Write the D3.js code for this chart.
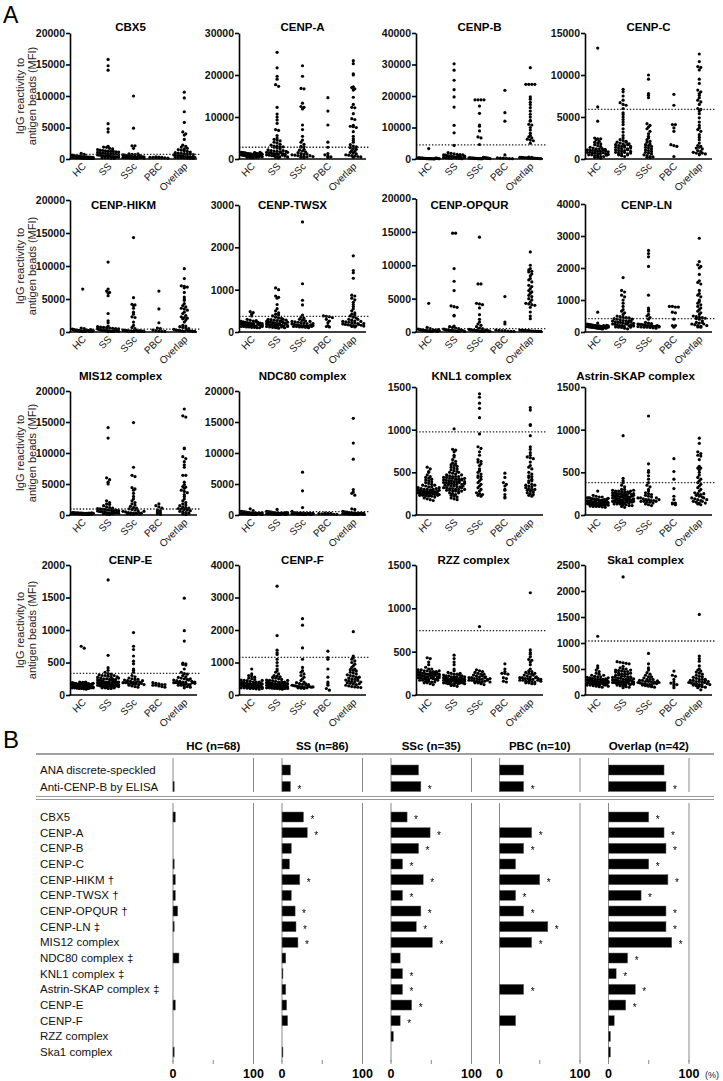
<!DOCTYPE html>
<html><head><meta charset="utf-8">
<script src="https://cdn.jsdelivr.net/npm/d3@7"></script>
<style>body{margin:0;background:#fff;} svg{display:block;font-family:"Liberation Sans",Arial,sans-serif;} .stars{filter:grayscale(100%);}</style>
</head><body><svg id="c" width="723" height="1081"></svg>
<script>
// ---------------- DATA: panel A ----------------
const groups = ["HC","SS","SSc","PBC","Overlap"];
const panelTitles = ["CBX5","CENP-A","CENP-B","CENP-C","CENP-HIKM","CENP-TWSX","CENP-OPQUR","CENP-LN",
  "MIS12 complex","NDC80 complex","KNL1 complex","Astrin-SKAP complex","CENP-E","CENP-F","RZZ complex","Ska1 complex"];
const yTicks = [
  [0,5000,10000,15000,20000],[0,10000,20000,30000],[0,10000,20000,30000,40000],[0,5000,10000,15000],
  [0,5000,10000,15000,20000],[0,1000,2000,3000],[0,5000,10000,15000,20000],[0,1000,2000,3000,4000],
  [0,5000,10000,15000,20000],[0,5000,10000,15000,20000],[0,500,1000,1500],[0,500,1000,1500],
  [0,500,1000,1500,2000],[0,1000,2000,3000,4000],[0,500,1000,1500],[0,500,1000,1500,2000,2500]];
const cutoffs = [750,2800,4500,5900,450,370,500,415,970,530,973,380,333,1160,742,1038];

const cbx5 = [
 [900,750,600,550,500,480,450,420,400,380,360,350,340,320,300,300,280,270,260,250,240,230,220,210,200,200,190,180,170,160,150,150,140,130,120,110,100,100,90,80],
 [15800,14800,14100,5600,4800,4300,2000,1900,1850,1700,1600,1500,1400,1350,1300,1250,1200,1200,1150,1100,1050,1000,950,900,850,800,800,750,700,650,600,600,550,500,500,450,400,400,350,300,300,250,200,200,150,100],
 [10000,4900,2100,2100,1700,800,750,700,650,600,550,500,450,400,380,350,320,300,280,250,230,200,180,150,120,100,800,600,500,400,300,200,350,250,150],
 [350,300,280,260,250,240,220,200,180,150],
 [10600,9700,7500,5800,4300,4000,3800,3100,2200,1900,1500,1400,1300,1200,1100,1000,950,900,850,800,780,700,650,600,550,500,450,400,380,350,300,280,250,230,200,180,150,120,100,1600,1700,2000]];
const cenpA = [
 [1600,1550,1500,1450,1400,1350,1300,1250,1200,1150,1100,1050,1000,950,900,850,800,750,700,650,600,550,500,450,400,350,300,1500,1400,1300,1200,1100,1000,900,800,700,600,500,400,1600,1350,1150,950,750,550],
 [25400,21700,19700,19000,17700,17300,12300,10700,10000,9300,8500,7000,6800,5600,5000,4700,4500,4300,4000,3800,3500,3300,3100,3000,2900,2900,2800,2600,2400,2200,2000,1900,1800,1700,1600,1500,1400,1300,1200,1100,1000,900,800,700,600,500,400,1500,1300,1100,900,700,500,300,2000,1800,1600],
 [22200,19700,16800,16700,13300,12500,12300,11900,8100,7000,5400,4500,4000,3500,3000,2900,2800,2300,2100,1900,1700,1500,1300,1100,1000,900,800,700,600,500,400,300,1200,800,600],
 [14600,11400,8100,4000,2800,1300,1000,700,500,400],
 [23400,22700,20300,20000,17200,17000,16700,16400,14700,13000,12300,12200,10800,9600,9400,8000,7800,7700,7500,6500,5400,4800,4400,4000,3400,3100,2900,2700,2500,2300,2000,1800,1600,1400,1200,1000,900,800,700,600,500,400]];
const cenpB = [
 [3300,400,350,300,300,250,250,200,200,200,150,150,150,100,100,100,80,80,60,50,300,250,200,150,100],
 [30200,28200,25000,22000,19700,16500,10700,8300,4300,2000,1800,1600,1500,1400,1300,1200,1100,1000,900,800,700,600,500,400,300,200,1000,800,600,400,300,200,100,1300,900,500],
 [18800,18800,18800,18800,16800,14500,10800,10400,8900,7000,6700,4600,400,350,300,300,250,250,200,200,200,150,150,150,100,100,100,500,450,400,350,300,250,200,150],
 [21800,14700,12000,1300,400,300,250,200,150,100],
 [29000,23700,23700,23700,23700,19700,19000,18000,17300,16300,15200,14200,13300,12300,12000,11000,10800,10000,9200,8200,7500,7000,6700,6300,6000,5800,5000,600,550,500,500,450,400,400,350,300,300,250,200,200,150,100]];
const cenpC = [
 [13200,6200,4500,2500,2400,2400,2300,2100,2000,1900,1800,1700,1600,1500,1400,1300,1200,1200,1100,1100,1000,1000,900,900,800,800,700,700,600,600,500,500,400,400,300,300,200,200,100,1250,1150,1050,950,850,750,650,550,450],
 [8300,8000,7500,7000,6700,6500,6400,6000,5500,5300,5000,4700,4400,4100,3600,3200,2800,2500,2300,2200,2100,2000,1900,1800,1700,1600,1500,1400,1300,1200,1100,1000,900,800,700,600,500,400,300,2000,1800,1600,1400,1200,1000,800,600,1700,1500,1300,1100,900,700,500],
 [10000,9500,7800,7600,7300,4200,4000,3800,3600,3300,3000,2700,2500,2300,2100,2000,1800,1700,1600,1500,1400,1300,1200,1100,1000,900,800,700,600,500,400,300,250,200,150],
 [7700,6400,4100,4100,3700,3300,1700,1600,1500,300],
 [12500,11600,11000,10900,10600,9500,9000,8200,8000,7800,7600,7300,7000,6800,6500,6000,5900,5700,5400,4900,4400,4000,3700,3500,3300,2900,2600,2300,1900,1600,1500,1300,1000,800,700,600,500,1400,1200,900,700,600]];
const cenpHIKM = [
 [6500,600,500,450,400,350,300,300,250,250,200,200,200,150,150,150,100,100,100,80,60,300,250,200,150,100,350,180,120,220],
 [10600,6500,6200,6000,5900,5500,2800,1700,1400,900,800,750,700,650,600,550,500,480,460,450,400,350,300,300,250,250,200,200,200,150,150,150,100,100,100,80,60,300,250,200,150,100],
 [14300,5200,4200,4100,4000,3600,3000,2700,2300,2200,1500,1000,700,500,300,250,200,200,180,150,150,120,100,100,80,300,250,200,150,100,200,150,120,100,80],
 [6200,3500,1400,600,500,300,200,150,100,80],
 [9600,8100,7000,6900,6800,6700,6000,5300,5000,4800,4300,4000,3800,3600,3500,3300,3000,2800,2500,2300,2200,2100,2000,1800,1500,1000,900,800,700,600,500,400,300,250,200,150,100,300,200,150,100,80]];
const cenpTWSX = [
 [480,460,420,380,300,280,260,250,240,230,220,210,200,200,190,180,180,170,170,160,160,150,150,140,140,130,130,120,120,110,110,100,100,250,230,210,190,170,150,130,270,200,160],
 [1040,1000,850,820,800,650,550,500,450,420,400,380,350,330,320,300,290,280,270,260,250,240,230,220,210,200,200,190,180,170,160,150,150,140,130,120,110,100,90,300,250,220,200,180,160,140,120,100,280,230,190,150,130],
 [2600,1140,750,640,400,350,320,300,280,260,250,240,230,220,210,200,190,180,170,160,150,150,140,140,130,130,120,120,110,100,250,200,170,150,130],
 [380,370,360,340,300,260,220,150,130,120],
 [1800,1450,1400,1270,870,850,800,760,700,650,600,550,500,450,420,400,380,350,330,300,280,260,250,240,230,220,210,200,190,180,170,160,150,140,130,120,300,250,200,180,160,140]];
const cenpOPQUR = [
 [4300,700,500,450,400,350,300,300,250,250,200,200,200,150,150,150,100,100,100,300,250,200,150,100,350,200],
 [14800,14800,9500,7600,6200,3900,3800,3700,2500,2400,900,800,700,600,500,450,400,350,300,300,250,250,200,200,200,150,150,150,100,100,100,300,250,200,150,100],
 [14200,7200,7200,4300,4200,4100,3600,2600,1900,1500,1200,1000,800,600,500,400,350,300,300,250,250,200,200,200,150,150,150,100,100,100,300,250,200,150,100],
 [5300,1500,1200,300,250,200,200,150,100,100],
 [12000,10000,9500,9300,9100,9000,8700,8400,8000,7800,7500,7000,6800,6500,6200,6000,5800,5500,5300,5000,4800,4500,4300,4200,4100,4000,3700,3000,2400,2000,300,250,250,200,200,200,150,150,150,100,100,100]];
const cenpLN = [
 [620,280,250,240,230,220,210,200,200,190,190,180,180,170,170,160,160,150,150,140,140,130,130,120,120,110,110,100,100,200,180,160,140,120,210,190,170,150],
 [1700,1300,1250,1150,1100,1000,900,800,700,650,600,550,500,480,460,450,440,420,400,380,360,350,340,320,300,300,280,260,250,240,220,200,200,180,160,150,140,120,100,350,300,250,200,150,400,330,270,230,190],
 [2550,2450,2350,2050,1150,750,700,650,550,500,450,400,300,280,260,250,240,230,220,210,200,200,190,180,180,170,160,150,150,140,130,120,200,180,160],
 [800,800,780,780,620,600,400,200,200,150],
 [2930,2200,2100,2050,2000,1800,1600,1550,1500,1300,1200,1150,1100,1000,950,900,850,800,750,700,650,600,550,500,480,460,450,430,420,400,350,300,280,250,230,200,180,160,150,300,250,200]];
const mis12 = [
 [400,380,360,350,340,320,300,300,280,260,250,250,240,220,200,200,200,180,160,150,150,140,120,100,100,300,250,200,150,350,280,230],
 [14100,12400,6000,5700,5300,5000,2300,2000,1800,1700,1500,1300,1200,1100,1050,1000,950,900,850,800,750,700,650,600,550,500,450,400,350,300,250,200,150,100,800,600,400,300,200,700,500,300],
 [14900,7700,6400,6200,4400,4200,4000,3500,3000,2600,2300,2000,1800,1600,1400,1200,1100,1000,900,800,700,600,500,400,350,300,250,200,150,100,400,300,200,150,600],
 [1800,1500,1300,1100,800,700,500,300,200,100],
 [17100,16000,15800,10800,10700,9400,9100,8600,8100,7700,6400,6400,5300,4900,4600,4500,4300,4000,3800,3600,3300,3000,2600,2300,2000,1800,1600,1500,1300,1200,1100,1050,1000,900,800,700,600,500,400,300,200,100]];
const ndc80 = [
 [1000,700,600,550,500,450,400,350,300,300,250,250,200,200,200,150,150,150,100,100,100,300,250,200,150,100,350],
 [900,600,550,500,450,400,350,300,300,250,250,200,200,200,150,150,150,100,100,100,300,250,200,150,100,400,350,200],
 [6900,3900,1200,600,400,350,300,300,250,250,200,200,200,150,150,150,100,100,100,300,250,200,150,100,200],
 [300,280,250,230,200,180,160,150,120,100],
 [15600,11600,9000,4100,3700,3500,3200,1000,900,600,500,450,400,350,300,300,250,250,200,200,200,150,150,150,100,100,100,300,250,200,150,100]];
const knl1 = [
 [560,540,510,500,470,450,440,430,420,410,400,390,380,370,360,350,340,330,320,310,300,300,295,290,285,280,280,275,270,270,265,260,260,255,250,250,245,240,240,235,230,230,225,220,220,210,200,190,180,170,300,290,280,270,260,250,240,310,320,330,350,270,260,250,280,290,240,230],
 [1010,770,760,740,700,680,650,630,610,600,590,580,570,560,550,540,530,520,510,500,490,480,470,460,450,450,440,440,430,430,420,420,410,410,400,400,390,390,380,380,370,370,360,360,350,350,340,340,330,330,320,320,310,310,300,300,290,290,280,280,270,260,250,240,230,220,210,200,190,180,450,420,400,380,360,340,320,300,280,260,500,470,430,410,390,370],
 [1420,1380,1310,1250,1140,950,800,780,740,700,650,620,600,580,540,500,480,460,440,420,400,380,360,340,320,300,280,260,250,240,230,220,450,520,630],
 [490,440,380,360,340,300,290,240,210,200],
 [1260,1230,1060,1050,930,800,770,730,700,680,670,660,620,580,560,540,500,480,460,440,420,400,380,360,350,340,330,320,310,300,290,280,270,260,250,240,230,220,350,300,400,450]];
const astrin = [
 [280,230,220,210,210,200,200,200,190,190,190,180,180,180,170,170,170,165,160,160,160,155,150,150,150,145,140,140,140,135,130,130,130,125,120,120,120,115,110,110,110,105,100,100,100,95,90,150,140,130,120,160,170,180,150,140,130,120,110,165,155,145,135,125,115,175,185,195],
 [930,430,400,380,350,330,300,290,280,280,270,270,260,260,250,250,240,240,230,230,220,220,210,210,200,200,200,190,190,190,180,180,180,170,170,170,160,160,160,150,150,150,140,140,140,130,130,130,120,120,110,110,100,90,250,240,230,220,210,200,190,180,170,160,150,140,260,270,280,290,300,200,190,180,170,160,210,220,230,240,250,150,160,170,180,190],
 [1160,600,520,500,460,420,380,350,330,300,280,260,250,240,230,220,210,200,200,190,180,180,170,170,160,160,150,150,140,130,120,110,200,180,160],
 [660,510,420,310,220,180,140,140,130,120],
 [900,840,740,720,700,690,650,570,550,550,530,500,470,440,420,400,380,360,340,320,300,280,260,250,240,230,220,210,200,190,180,170,160,150,140,130,120,250,200,180,160,140]];
const cenpE = [
 [750,720,200,195,190,185,180,175,170,165,160,155,150,150,145,140,140,135,130,130,125,120,120,115,110,110,105,100,100,95,90,200,180,160,140,120,100,190,170,150,130,110,185,165,145,125,175,155,135,115,150,140,130,120,160,170,180,110],
 [1770,610,420,380,350,330,320,310,300,300,290,280,270,260,250,250,240,230,220,220,210,200,200,200,190,190,180,180,170,170,160,160,150,150,140,140,130,130,120,120,110,110,100,100,250,230,210,190,170,150,130,110,240,220,200,180,160,140,120,300,280,260,200,190,180,170,160,150,140,130],
 [960,750,700,600,520,480,400,380,350,300,280,260,250,240,230,220,210,200,200,190,190,180,180,170,170,160,150,140,130,120,200,180,160,220,240],
 [190,180,170,160,160,150,150,140,130,120],
 [1490,990,830,490,480,470,460,400,350,330,320,300,280,270,260,250,240,230,220,210,200,200,190,190,180,180,170,170,160,160,150,150,140,130,120,110,250,230,210,200,190,180]];
const cenpF = [
 [800,650,600,580,550,520,500,480,460,450,440,420,400,400,380,380,360,360,350,340,340,320,320,300,300,290,280,280,270,260,260,250,250,240,240,230,230,220,220,210,200,200,190,180,400,350,300,250,200,450,330,270,230,310,290,260,240,380,360,340],
 [3350,1830,1380,1300,1250,1100,1000,900,800,750,700,650,600,580,560,540,520,500,480,460,450,440,420,400,400,380,380,360,360,350,340,340,320,320,300,300,290,280,280,270,260,260,250,250,240,240,230,230,220,220,210,200,200,190,180,400,350,300,250,200,450,330,270,230,310,290,260,240,380,360,340,300,250,200,350],
 [2350,2150,1450,1100,850,750,700,650,600,550,500,450,400,380,350,330,300,290,280,270,260,250,240,230,220,210,200,300,280,260,240,220,350,320,250],
 [1350,1150,1100,800,550,400,350,300,200,150],
 [1950,1200,1150,1100,1050,1000,950,900,850,800,780,760,740,700,680,650,620,600,580,550,520,500,480,460,440,420,400,380,360,340,320,300,280,260,250,240,230,550,500,450,400,350]];
const rzz = [
 [430,420,380,350,320,300,300,290,290,280,280,270,270,260,260,250,250,240,240,230,230,220,220,210,210,200,200,190,190,180,180,170,170,160,160,150,150,140,140,130,120,250,240,230,220,210,200,190,180,170,260,270,280,250,230,210,190,200,220,240],
 [460,420,380,350,300,280,260,250,240,230,220,220,210,210,200,200,190,190,180,180,170,170,160,160,150,150,140,140,130,130,120,120,110,110,100,200,190,180,170,160,150,140,130,210,200,190,180,170,160,150,140,230,220,210,200,190,180,170,160,150,140,130,240,250,180,160],
 [790,290,280,270,260,250,240,230,220,210,200,200,190,190,180,180,170,170,160,160,150,150,140,140,130,120,200,180,160,220,240,190,170,150,210],
 [360,300,270,250,250,240,200,190,160,150],
 [1180,520,490,470,440,410,400,380,350,300,280,270,260,250,240,230,220,210,200,200,190,190,180,180,170,170,160,160,150,150,140,140,130,130,250,230,210,200,190,180,170,160]];
const ska1 = [
 [1130,560,520,480,450,420,400,380,360,350,340,330,320,310,300,300,290,290,280,280,270,270,260,260,250,250,240,240,230,230,220,220,210,210,200,200,190,190,180,170,160,150,300,280,260,240,220,200,250,230,210,270,290,310,330,350,190,170,380,260,240],
 [2270,640,630,620,610,600,550,520,500,480,470,460,450,440,420,400,400,380,380,360,360,350,340,340,320,320,300,300,290,280,280,270,260,260,250,250,240,240,230,230,220,220,210,200,200,190,180,170,160,150,140,300,280,260,240,220,200,350,330,310,290,270,250,230,210,400,450,500,480,420],
 [800,600,520,480,430,400,380,350,350,330,300,300,280,280,260,260,250,240,230,220,210,200,200,190,180,170,160,150,300,250,200,230,270,220,240],
 [460,380,360,300,250,230,210,200,180,140],
 [1550,750,700,650,560,500,480,460,440,420,400,380,360,350,340,320,300,300,280,280,260,260,250,240,230,220,210,200,200,190,180,170,160,150,140,100,300,280,260,240,220,200]];
const panelData = [cbx5,cenpA,cenpB,cenpC,cenpHIKM,cenpTWSX,cenpOPQUR,cenpLN,mis12,ndc80,knl1,astrin,cenpE,cenpF,rzz,ska1];

// ---------------- DATA: panel B ----------------
const rowLabelsB = ["ANA discrete-speckled","Anti-CENP-B by ELISA","CBX5","CENP-A","CENP-B","CENP-C","CENP-HIKM \u2020","CENP-TWSX \u2020",
  "CENP-OPQUR \u2020","CENP-LN \u2021","MIS12 complex","NDC80 complex \u2021","KNL1 complex \u2021","Astrin-SKAP complex \u2021","CENP-E","CENP-F","RZZ complex","Ska1 complex"];
const colHeadersB = ["HC (n=68)","SS (n=86)","SSc (n=35)","PBC (n=10)","Overlap (n=42)"];
const pctHC      = [0,1.5,2.9,0,0,1.5,2.9,2.9,5.9,1.5,0,7.4,0,0,2.9,0,0,1.5];
const pctSS      = [10.5,10.5,26.7,31.4,11.6,9.3,22.1,11.6,16.3,17.4,19.8,4.7,1.2,4.7,5.8,7.0,0,1.2];
const pctSSc     = [34.3,37.1,20.0,48.6,34.3,14.3,40.0,14.3,37.1,31.4,51.4,11.4,14.3,14.3,25.7,11.4,2.9,0];
const pctPBC     = [30,30,0,40,30,20,50,20,30,60,40,0,0,30,0,20,0,0];
const pctOverlap = [69.0,71.4,50.0,69.0,71.4,50.0,73.8,40.5,71.4,71.4,78.6,23.8,9.5,33.3,21.4,7.1,2.4,2.4];
const sigHC      = [0,0,0,0,0,0,0,0,0,0,0,0,0,0,0,0,0,0];
const sigSS      = [0,1,1,1,0,0,1,0,1,1,1,0,0,0,0,0,0,0];
const sigSSc     = [0,1,1,1,1,1,1,1,1,1,1,0,1,1,1,1,0,0];
const sigPBC     = [0,1,0,1,1,0,1,1,1,1,1,0,0,1,0,0,0,0];
const sigOverlap = [0,1,1,1,1,1,1,1,1,1,1,1,1,1,1,0,0,0];
const axisTicksB = [0,50,100];

// ---------------- DRAW ----------------
const svg = d3.select("#c");
const F = "'Liberation Sans',Arial,sans-serif";

svg.append("text").attr("x",3).attr("y",23).attr("font-size",23).text("A");

const colX = [70,239,416,585], plotW = 127, rowZero = [159,332,515,695];
const panelTop = [33,33,33,33,200,205,198.5,204,391,391,387,387,565,565,565,565];
const titleDx = [-3,0,0,0,-10,-10,-10,-2,-13,0,-8,-13,-3,0,-6,-3];
const titleY = [31,31,31,31,209,209,209,209,380,380,380,380,564,564,564,564];

function swarm(vals, cx, y, halfW){
  const binH = 2.6, bins = new Map();
  vals.forEach(v=>{
    const py = y(v), k = Math.round(py/binH);
    if(!bins.has(k)) bins.set(k,[]);
    bins.get(k).push(py);
  });
  const pts=[];
  bins.forEach(arr=>{
    const n=arr.length;
    const sp = n>1 ? Math.min(3.0, 2*halfW/(n-1)) : 0;
    arr.forEach((py,i)=>pts.push([cx+(i-(n-1)/2)*sp, py]));
  });
  return pts;
}

panelData.forEach((data,i)=>{
  const r=Math.floor(i/4), c=i%4;
  const x0=colX[c], y0=rowZero[r];
  const y=d3.scaleLinear().domain([0,yTicks[i][yTicks[i].length-1]]).range([y0,panelTop[i]]);
  const x=d3.scaleBand().domain(groups).range([x0,x0+plotW]);
  const g=svg.append("g");
  g.append("text").attr("x",x0+plotW/2+titleDx[i]).attr("y",titleY[i]).attr("text-anchor","middle")
    .attr("font-size",11.5).attr("font-weight","bold").text(panelTitles[i]);
  data.forEach((vals,gi)=>{
    const pts=swarm(vals, x(groups[gi])+x.bandwidth()/2, y, 10.5);
    g.selectAll(null).data(pts).enter().append("circle")
      .attr("cx",d=>d[0]).attr("cy",d=>d[1]).attr("r",1.6).attr("fill","#000");
  });
  g.append("line").attr("x1",x0).attr("x2",x0+plotW+3).attr("y1",y(cutoffs[i])).attr("y2",y(cutoffs[i]))
    .attr("stroke","#222").attr("stroke-width",1.3).attr("stroke-dasharray","1.4,1.8");
  const ya=g.append("g").attr("transform",`translate(${x0},0)`)
    .call(d3.axisLeft(y).tickValues(yTicks[i]).tickSize(4).tickSizeOuter(0).tickPadding(1).tickFormat(d3.format("d")));
  ya.select(".domain").attr("stroke-width",1.6);
  ya.selectAll(".tick line").attr("stroke-width",1.6);
  ya.selectAll("text").attr("font-size",10.5).attr("font-weight","bold").attr("font-family",F).attr("fill","#111");
  g.append("line").attr("x1",x0-0.8).attr("x2",x0+plotW).attr("y1",y0).attr("y2",y0).attr("stroke","#000").attr("stroke-width",1.6);
  groups.forEach(gr=>{
    const cx=x(gr)+x.bandwidth()/2;
    g.append("text").attr("transform",`translate(${cx+4},${y0+8}) rotate(-45)`).attr("text-anchor","end")
      .attr("font-size",10).attr("fill","#111").text(gr);
  });
  if(c===0){
    const cy=(y0+panelTop[i])/2;
    const t=svg.append("text").attr("transform",`translate(24,${cy}) rotate(-90)`).attr("text-anchor","middle")
      .attr("font-size",11).attr("fill","#222");
    t.append("tspan").attr("x",0).attr("dy",0).text("IgG reactivity to");
    t.append("tspan").attr("x",0).attr("dy",12).text("antigen beads (MFI)");
  }
});

// ---------------- Panel B ----------------
svg.append("text").attr("x",3).attr("y",748).attr("font-size",24).text("B");
const colZero=[173,282,391,499.5,608.5], colW=80.5;
const pcts=[pctHC,pctSS,pctSSc,pctPBC,pctOverlap];
const sigs=[sigHC,sigSS,sigSSc,sigPBC,sigOverlap];
const rowY = rowLabelsB.map((d,i)=> i<2 ? 770+i*16.5 : 817+(i-2)*15.67);

svg.append("line").attr("x1",36).attr("x2",714).attr("y1",754).attr("y2",754).attr("stroke","#444").attr("stroke-width",1.2);
[796.5,799.5].forEach(yy=>svg.append("line").attr("x1",36).attr("x2",714).attr("y1",yy).attr("y2",yy).attr("stroke","#999").attr("stroke-width",1.2));

rowLabelsB.forEach((lab,i)=>{
  svg.append("text").attr("x",40).attr("y",rowY[i]+4).attr("font-size",11.5).attr("fill","#111").text(lab);
});

const starG = svg.append("g").attr("class","stars");
colHeadersB.forEach((h,ci)=>{
  const xs=d3.scaleLinear().domain([0,100]).range([colZero[ci],colZero[ci]+colW]);
  svg.append("text").attr("x",xs(50)).attr("y",750).attr("text-anchor","middle").attr("font-size",11.5)
    .attr("font-weight","bold").text(h);
  [[758,792],[803,1062]].forEach(([a,b])=>{
    [0,100].forEach(v=>svg.append("line").attr("x1",xs(v)).attr("x2",xs(v)).attr("y1",a).attr("y2",b)
      .attr("stroke","#888").attr("stroke-width",1));
  });
  axisTicksB.forEach(v=>{
    svg.append("line").attr("x1",xs(v)).attr("x2",xs(v)).attr("y1",1060).attr("y2",1064).attr("stroke","#888");
  });
  [0,100].forEach(v=>svg.append("text").attr("x",xs(v)).attr("y",1078).attr("text-anchor","middle")
    .attr("font-size",12.5).attr("font-weight","bold").text(v));
  pcts[ci].forEach((p,ri)=>{
    if(p>0) svg.append("rect").attr("x",xs(0)).attr("y",rowY[ri]-5).attr("width",xs(p)-xs(0)).attr("height",10)
      .attr("fill","#000").attr("stroke","#666").attr("stroke-width",0.5);
    if(sigs[ci][ri]) starG.append("text").attr("x",xs(p)+7).attr("y",rowY[ri]+6).attr("font-size",10)
      .attr("fill","#000").text("*");
  });
});
svg.append("text").attr("x",705).attr("y",1078).attr("font-size",9).attr("fill","#222").text("(%)");
</script></body></html>
